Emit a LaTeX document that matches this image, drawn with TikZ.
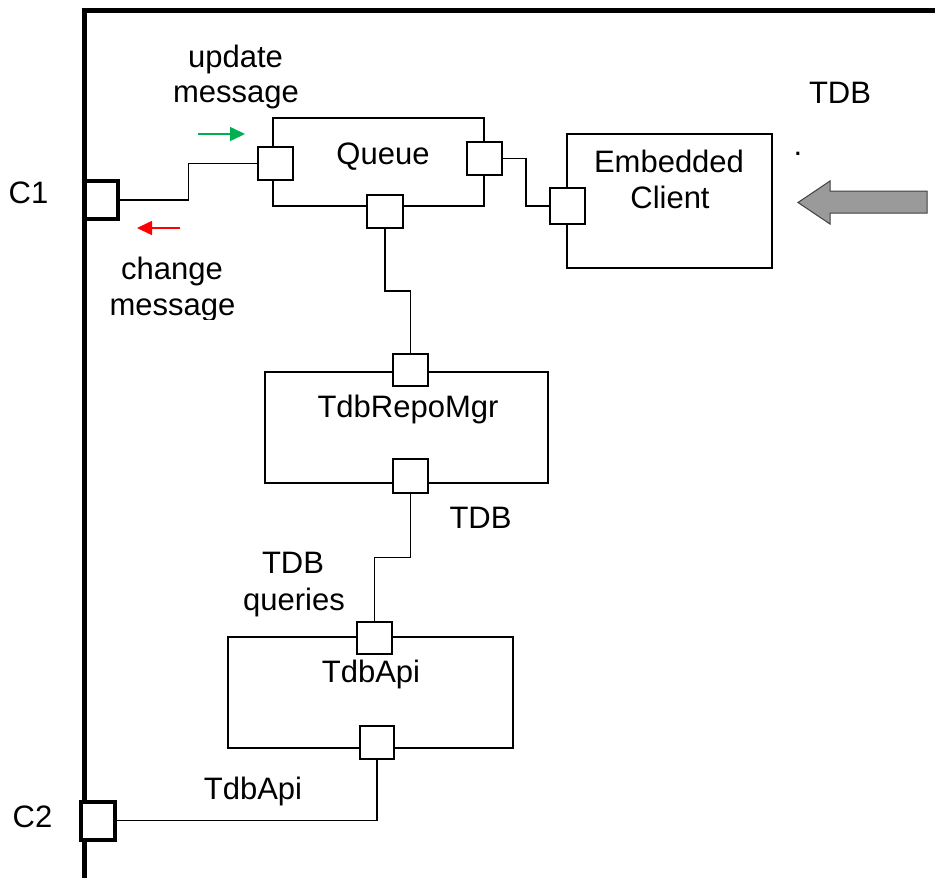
\documentclass[tikz,border=0pt]{standalone}
\usepackage{fontspec}
\setmainfont{Liberation Sans}
\usetikzlibrary{arrows.meta,calc}
\definecolor{updgreen}{HTML}{00B050}
\definecolor{bigarrow}{HTML}{9A9A9A}
\begin{document}
\begin{tikzpicture}[x=1pt,y=-1pt,
  lbl/.style={font=\fontsize{31}{37}\selectfont, inner sep=0pt, anchor=base},
  comp/.style={draw, line width=1.4pt, inner sep=0pt},
  port/.style={draw, line width=1.4pt, fill=white, inner sep=0pt},
  extport/.style={draw, line width=4pt, fill=white, inner sep=0pt, minimum width=33pt, minimum height=38pt},
  wire/.style={line width=1.4pt},
  msgarrow/.style={line width=1.6pt, -{Triangle[length=15pt,width=14pt]}}]
\useasboundingbox (0,0) rectangle (935,878);

% frame
\draw[line width=5pt, line join=miter] (84,880) -- (84,10) -- (937,10);

% component boxes
\node[comp, minimum width=211pt, minimum height=88pt] (queue) at (378.5,162) {};
\node[comp, minimum width=205pt, minimum height=134pt] (emb) at (669.5,201) {};
\node[comp, minimum width=283pt, minimum height=111pt] (repo) at (406.5,427.5) {};
\node[comp, minimum width=285pt, minimum height=111pt] (api) at (370.5,692.5) {};

% ports
\node[port, minimum width=35pt, minimum height=33pt] (ql) at (275.5,163.5) {};
\node[port, minimum width=35pt, minimum height=33pt] (qr) at (484.5,158.5) {};
\node[port, minimum width=36pt, minimum height=33pt] (qb) at (385,211.5) {};
\node[port, minimum width=35pt, minimum height=36pt] (ep) at (567.5,206) {};
\node[port, minimum width=35pt, minimum height=32pt] (rt) at (410.5,370) {};
\node[port, minimum width=35pt, minimum height=34pt] (rb) at (410.5,476) {};
\node[port, minimum width=35pt, minimum height=32pt] (at) at (374.5,638) {};
\node[port, minimum width=34pt, minimum height=33pt] (ab) at (377,742.5) {};

% external ports
\node[extport] (c1) at (101.5,200) {};
\node[extport, minimum width=34pt] (c2) at (98,820.5) {};

% wires
\draw[wire] (c1.east) -| ($(c1.east)!.5!(ql.west)$) |- (ql.west);
\draw[wire] (qr.east) -| ($(qr.east)!.5!(ep.west)$) |- (ep.west);
\draw[wire] (qb.south) |- ($(qb.south)!.5!(rt.north)$) -| (rt.north);
\draw[wire] (rb.south) |- ($(rb.south)!.5!(at.north)$) -| (at.north);
\draw[wire] (ab.south) |- (c2.east);

% message arrows
\coordinate (g1) at (198,134); \coordinate (g2) at (245,134);
\draw[msgarrow, draw=updgreen, fill=updgreen] (g1) -- (g2);
\coordinate (r1) at (180,228); \coordinate (r2) at (137,228);
\draw[msgarrow, draw=red, fill=red] (r1) -- (r2);

% big arrow
\draw[fill=bigarrow, draw=black!75, line width=1pt, line join=miter]
  (927,191) -- (830,191) -- (830,181) -- (798,202.5) -- (830,224) -- (830,213) -- (927,213) -- cycle;

% texts
\node[lbl] (tqueue) at (383,164) {Queue};
\node[lbl] (temb1) at (669,172) {Embedded};
\node[lbl] (temb2) at (670,208) {Client};
\node[lbl] (trepo) at (408,417) {TdbRepoMgr};
\node[lbl] (tapi) at (371,682) {TdbApi};
\node[lbl] (ttdb1) at (840,103) {TDB};
\node[lbl] (tdot) at (798,155) {.};
\node[lbl] (ttdb2) at (480.5,528) {TDB};
\node[lbl] (tq1) at (293,573) {TDB};
\node[lbl] (tq2) at (294,610) {queries};
\node[lbl] (tapi2) at (253,799) {TdbApi};
\node[lbl] (tc1) at (28.5,203) {C1};
\node[lbl] (tc2) at (32.5,827) {C2};
\node[lbl] (tup1) at (235.5,67) {update};
\node[lbl] (tup2) at (236,102) {message};
\begin{scope}
  \clip (95,240) rectangle (270,319);
  \node[lbl] (tch1) at (172,279) {change};
  \node[lbl] (tch2) at (172.5,315) {message};
\end{scope}
\end{tikzpicture}
\end{document}
